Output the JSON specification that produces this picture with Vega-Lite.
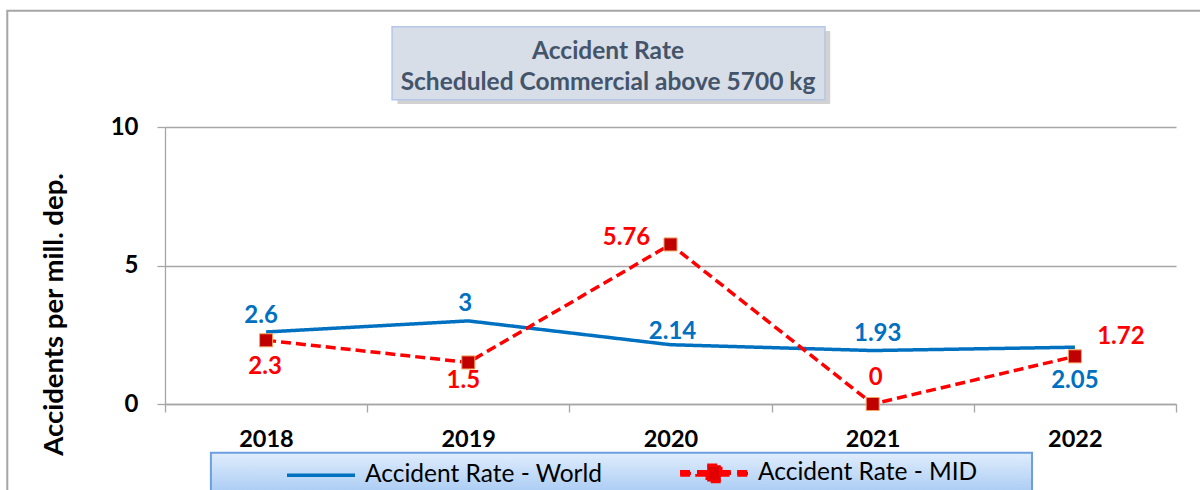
{
  "$schema": "https://vega.github.io/schema/vega-lite/v6.json",
  "width": 1011,
  "height": 277,
  "autosize": "none",
  "padding": {"left": 165, "top": 127, "right": 24, "bottom": 86},
  "background": "white",
  "config": {
    "view": {"stroke": null},
    "font": "Lato",
    "text": {"font": "Lato", "fontWeight": "bold", "fontSize": 24, "baseline": "middle", "align": "center"}
  },
  "data": {
    "values": [
      {"year": 2018, "series": "Accident Rate - World", "value": 2.6},
      {"year": 2019, "series": "Accident Rate - World", "value": 3},
      {"year": 2020, "series": "Accident Rate - World", "value": 2.14},
      {"year": 2021, "series": "Accident Rate - World", "value": 1.93},
      {"year": 2022, "series": "Accident Rate - World", "value": 2.05},
      {"year": 2018, "series": "Accident Rate - MID", "value": 2.3},
      {"year": 2019, "series": "Accident Rate - MID", "value": 1.5},
      {"year": 2020, "series": "Accident Rate - MID", "value": 5.76},
      {"year": 2021, "series": "Accident Rate - MID", "value": 0},
      {"year": 2022, "series": "Accident Rate - MID", "value": 1.72}
    ]
  },
  "layer": [
    {
      "data": {"values": [{}]},
      "mark": {"type": "rect", "fillOpacity": 0, "stroke": "#a6a6a6", "strokeWidth": 2},
      "encoding": {
        "x": {"datum": 2016.72, "type": "quantitative"},
        "x2": {"datum": 2030},
        "y": {"datum": 14.2, "type": "quantitative"},
        "y2": {"datum": -8}
      }
    },
    {
      "data": {"values": [{}]},
      "mark": {"type": "rect", "fill": "#7f7f7f", "opacity": 0.35},
      "encoding": {
        "x": {"datum": 2018.65, "type": "quantitative"},
        "x2": {"datum": 2020.79},
        "y": {"datum": 13.47, "type": "quantitative"},
        "y2": {"datum": 10.83}
      }
    },
    {
      "data": {"values": [{}]},
      "mark": {"type": "rect", "fill": "#d7dee8", "stroke": "#b4c7e7", "strokeWidth": 1.5},
      "encoding": {
        "x": {"datum": 2018.623, "type": "quantitative"},
        "x2": {"datum": 2020.764},
        "y": {"datum": 13.62, "type": "quantitative"},
        "y2": {"datum": 10.986}
      }
    },
    {
      "data": {"values": [{}]},
      "mark": {"type": "text", "text": "Accident Rate", "fontSize": 24.5, "color": "#44546a"},
      "encoding": {
        "x": {"datum": 2019.691, "type": "quantitative"},
        "y": {"datum": 12.72, "type": "quantitative"}
      }
    },
    {
      "data": {"values": [{}]},
      "mark": {"type": "text", "text": "Scheduled Commercial above 5700 kg", "fontSize": 24.5, "color": "#44546a"},
      "encoding": {
        "x": {"datum": 2019.691, "type": "quantitative"},
        "y": {"datum": 11.58, "type": "quantitative"}
      }
    },
    {
      "data": {"values": [{}]},
      "mark": {
        "type": "rect",
        "stroke": "#6c9fe0",
        "strokeWidth": 2,
        "fill": {"gradient": "linear", "x1": 0, "y1": 0, "x2": 0, "y2": 1,
          "stops": [{"offset": 0, "color": "#e0edfc"}, {"offset": 1, "color": "#9fc5f2"}]}
      },
      "encoding": {
        "x": {"datum": 2017.727, "type": "quantitative"},
        "x2": {"datum": 2021.788},
        "y": {"datum": -1.758, "type": "quantitative"},
        "y2": {"datum": -3.5}
      }
    },
    {
      "mark": {"type": "line", "strokeWidth": 3.5},
      "encoding": {
        "x": {
          "field": "year", "type": "quantitative",
          "scale": {"domain": [2017.5, 2022.5], "nice": false, "zero": false},
          "axis": {
            "title": null,
            "values": [2017.5, 2018.5, 2019.5, 2020.5, 2021.5, 2022.5],
            "labelExpr": "datum.value < 2022 ? format(datum.value + 0.5, 'd') : ''",
            "labelOffset": 101,
            "labelFont": "Lato", "labelFontWeight": "bold", "labelFontSize": 23.5, "labelColor": "black",
            "labelPadding": 15, "labelOverlap": false, "labelFlush": false, "labelBound": false,
            "tickSize": 8, "tickColor": "#a6a6a6", "tickWidth": 1.3,
            "domainColor": "#a6a6a6", "domainWidth": 1.3, "grid": false
          }
        },
        "y": {
          "field": "value", "type": "quantitative",
          "scale": {"domain": [0, 10], "nice": false},
          "axis": {
            "title": "Accidents per mill. dep.",
            "values": [0, 5, 10],
            "grid": true, "gridColor": "#a6a6a6", "gridWidth": 1.3,
            "domainColor": "#a6a6a6", "domainWidth": 1.3,
            "tickColor": "#a6a6a6", "tickSize": 8, "tickWidth": 1.3,
            "labelFont": "Lato", "labelFontWeight": "bold", "labelFontSize": 24, "labelColor": "black",
            "labelPadding": 19,
            "titleFont": "Lato", "titleFontWeight": "bold", "titleFontSize": 27.5, "titleColor": "black",
            "titleX": -111, "titleY": 187, "titleAlign": "center", "titleBaseline": "middle"
          }
        },
        "color": {
          "field": "series", "type": "nominal",
          "scale": {"domain": ["Accident Rate - World", "Accident Rate - MID"], "range": ["#0070c0", "#ff0000"]},
          "legend": {
            "title": null, "orient": "none", "legendX": 120, "legendY": 310,
            "direction": "horizontal", "symbolSize": 4624, "symbolStrokeWidth": 3.5,
            "labelFont": "Lato", "labelFontSize": 24.5, "labelColor": "black", "labelOffset": 8,
            "columnPadding": 70, "padding": 0, "labelLimit": 400,
            "encode": {
              "symbols": {
                "update": {
                  "shape": {"signal": "datum.value === 'Accident Rate - MID' ? 'M-1,-0.05H-0.68V0.05H-1ZM-0.5,-0.05H-0.2V0.05H-0.5ZM0.2,-0.05H0.5V0.05H0.2ZM0.68,-0.05H1V0.05H0.68ZM-0.2,-0.24H0.2V0.24H-0.2Z' : 'M-1,0H1'"},
                  "fill": {"signal": "datum.value === 'Accident Rate - MID' ? '#e00000' : 'transparent'"},
                  "stroke": {"signal": "datum.value === 'Accident Rate - MID' ? 'transparent' : '#0070c0'"},
                  "strokeWidth": {"value": 3.5},
                  "opacity": {"value": 1}
                }
              }
            }
          }
        },
        "strokeDash": {
          "field": "series", "type": "nominal",
          "scale": {"domain": ["Accident Rate - World", "Accident Rate - MID"], "range": [[1, 0], [10, 5]]},
          "legend": null
        }
      }
    },
    {
      "transform": [{"filter": "datum.series === 'Accident Rate - MID'"}],
      "mark": {"type": "point", "shape": "square", "filled": true, "size": 170, "fill": "#c00000", "stroke": "#f4a460", "strokeWidth": 1, "opacity": 1},
      "encoding": {
        "x": {"field": "year", "type": "quantitative"},
        "y": {"field": "value", "type": "quantitative"}
      }
    },
    {
      "transform": [{"filter": "datum.series === 'Accident Rate - World' && datum.year === 2018"}],
      "mark": {"type": "text", "color": "#0070c0", "dx": -5, "dy": -16},
      "encoding": {"x": {"field": "year", "type": "quantitative"}, "y": {"field": "value", "type": "quantitative"}, "text": {"field": "value", "type": "quantitative"}}
    },
    {
      "transform": [{"filter": "datum.series === 'Accident Rate - World' && datum.year === 2019"}],
      "mark": {"type": "text", "color": "#0070c0", "dx": -3, "dy": -17},
      "encoding": {"x": {"field": "year", "type": "quantitative"}, "y": {"field": "value", "type": "quantitative"}, "text": {"field": "value", "type": "quantitative"}}
    },
    {
      "transform": [{"filter": "datum.series === 'Accident Rate - World' && datum.year === 2020"}],
      "mark": {"type": "text", "color": "#0070c0", "dx": 2, "dy": -13},
      "encoding": {"x": {"field": "year", "type": "quantitative"}, "y": {"field": "value", "type": "quantitative"}, "text": {"field": "value", "type": "quantitative"}}
    },
    {
      "transform": [{"filter": "datum.series === 'Accident Rate - World' && datum.year === 2021"}],
      "mark": {"type": "text", "color": "#0070c0", "dx": 5, "dy": -17},
      "encoding": {"x": {"field": "year", "type": "quantitative"}, "y": {"field": "value", "type": "quantitative"}, "text": {"field": "value", "type": "quantitative"}}
    },
    {
      "transform": [{"filter": "datum.series === 'Accident Rate - World' && datum.year === 2022"}],
      "mark": {"type": "text", "color": "#0070c0", "dx": 0, "dy": 34},
      "encoding": {"x": {"field": "year", "type": "quantitative"}, "y": {"field": "value", "type": "quantitative"}, "text": {"field": "value", "type": "quantitative"}}
    },
    {
      "transform": [{"filter": "datum.series === 'Accident Rate - MID' && datum.year === 2018"}],
      "mark": {"type": "text", "color": "#ff0000", "dx": -1, "dy": 27},
      "encoding": {"x": {"field": "year", "type": "quantitative"}, "y": {"field": "value", "type": "quantitative"}, "text": {"field": "value", "type": "quantitative"}}
    },
    {
      "transform": [{"filter": "datum.series === 'Accident Rate - MID' && datum.year === 2019"}],
      "mark": {"type": "text", "color": "#ff0000", "dx": -5, "dy": 19},
      "encoding": {"x": {"field": "year", "type": "quantitative"}, "y": {"field": "value", "type": "quantitative"}, "text": {"field": "value", "type": "quantitative"}}
    },
    {
      "transform": [{"filter": "datum.series === 'Accident Rate - MID' && datum.year === 2020"}],
      "mark": {"type": "text", "color": "#ff0000", "dx": -44, "dy": -6},
      "encoding": {"x": {"field": "year", "type": "quantitative"}, "y": {"field": "value", "type": "quantitative"}, "text": {"field": "value", "type": "quantitative"}}
    },
    {
      "transform": [{"filter": "datum.series === 'Accident Rate - MID' && datum.year === 2021"}],
      "mark": {"type": "text", "color": "#ff0000", "dx": 3, "dy": -26},
      "encoding": {"x": {"field": "year", "type": "quantitative"}, "y": {"field": "value", "type": "quantitative"}, "text": {"field": "value", "type": "quantitative"}}
    },
    {
      "transform": [{"filter": "datum.series === 'Accident Rate - MID' && datum.year === 2022"}],
      "mark": {"type": "text", "color": "#ff0000", "dx": 46, "dy": -19},
      "encoding": {"x": {"field": "year", "type": "quantitative"}, "y": {"field": "value", "type": "quantitative"}, "text": {"field": "value", "type": "quantitative"}}
    }
  ]
}
